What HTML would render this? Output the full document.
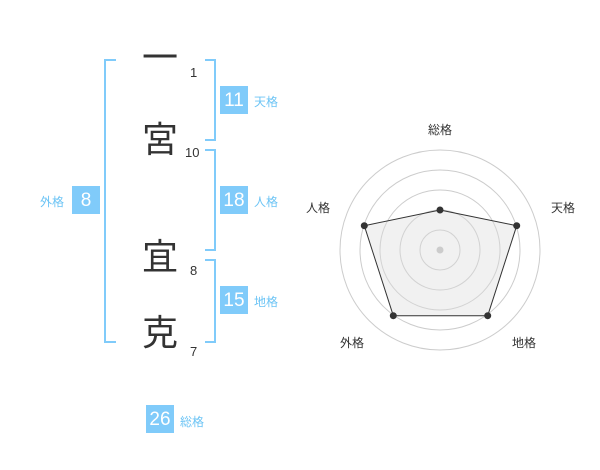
<!DOCTYPE html><html><head><meta charset="utf-8"><style>
body{margin:0;width:600px;height:470px;background:#fff;position:relative;font-family:"Liberation Sans","Noto Sans CJK JP",sans-serif;overflow:hidden}
.a{position:absolute}
.ch{position:absolute;left:141px;width:38px;text-align:center;font-size:36px;color:#333;line-height:40px}
.n{position:absolute;font-size:13px;color:#333;line-height:14px}
.b{position:absolute;width:28px;height:28px;background:#80cbfa;color:#fff;font-size:19px;line-height:30px;text-align:center}
.l{position:absolute;font-size:12px;color:#6cc4f5;line-height:14px}
.br{position:absolute;border:2px solid #80cbfa}
</style></head><body>
<div class="ch" style="top:38px">一</div>
<div class="ch" style="top:120px">宮</div>
<div class="ch" style="top:237px">宜</div>
<div class="ch" style="top:313px">克</div>
<div class="n" style="left:190px;top:66px">1</div>
<div class="n" style="left:185px;top:146px">10</div>
<div class="n" style="left:190px;top:264px">8</div>
<div class="n" style="left:190px;top:345px">7</div>
<div class="br" style="left:104px;top:59px;width:10px;height:280px;border-right:none"></div>
<div class="br" style="left:205px;top:59px;width:9px;height:78px;border-left:none"></div>
<div class="br" style="left:205px;top:149px;width:9px;height:98px;border-left:none"></div>
<div class="br" style="left:205px;top:259px;width:9px;height:80px;border-left:none"></div>
<div class="b" style="left:220px;top:86px">11</div><div class="l" style="left:254px;top:95px">天格</div>
<div class="b" style="left:220px;top:186px">18</div><div class="l" style="left:254px;top:195px">人格</div>
<div class="b" style="left:220px;top:286px">15</div><div class="l" style="left:254px;top:295px">地格</div>
<div class="b" style="left:72px;top:186px">8</div><div class="l" style="left:40px;top:195px">外格</div>
<div class="b" style="left:146px;top:405px">26</div><div class="l" style="left:180px;top:415px">総格</div>
<svg class="a" style="left:0;top:0" width="600" height="470">
<g fill="none" stroke="#ccc" stroke-width="1">
<circle cx="440" cy="250" r="20"/><circle cx="440" cy="250" r="40"/><circle cx="440" cy="250" r="60"/><circle cx="440" cy="250" r="80"/><circle cx="440" cy="250" r="100"/></g>
<polygon points="440,210 516.7,225.7 487.7,315.7 393.3,315.7 364.3,225.7" fill="rgba(220,220,220,0.4)" stroke="#333" stroke-width="1"/>
<circle cx="440" cy="250" r="3.5" fill="#ccc"/>
<g fill="#333"><circle cx="440" cy="210" r="3.5"/><circle cx="516.7" cy="225.7" r="3.5"/><circle cx="487.7" cy="315.7" r="3.5"/><circle cx="393.3" cy="315.7" r="3.5"/><circle cx="364.3" cy="225.7" r="3.5"/></g>
<g font-size="12" fill="#333" text-anchor="middle" font-family="Liberation Sans,Noto Sans CJK JP,sans-serif">
<text x="440" y="134">総格</text><text x="563" y="212">天格</text><text x="524" y="347">地格</text><text x="352" y="347">外格</text><text x="318" y="212">人格</text></g>
</svg>
</body></html>
